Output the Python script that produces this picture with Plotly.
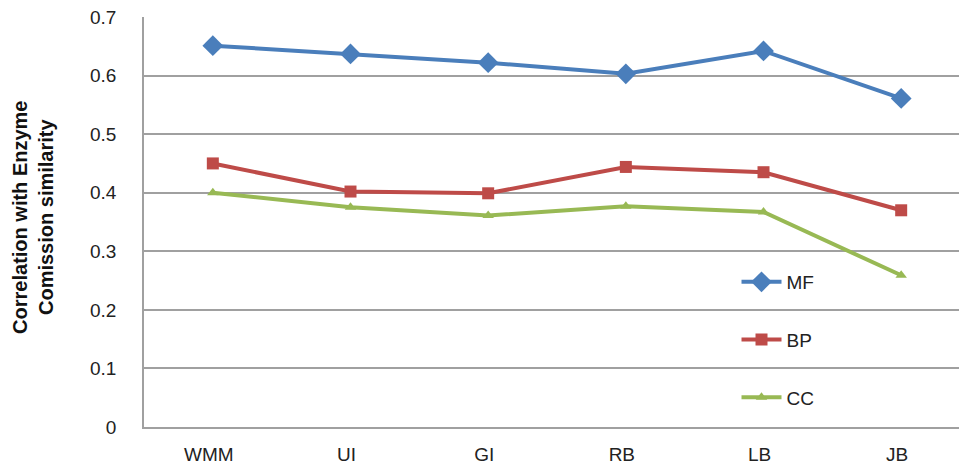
import plotly.graph_objects as go

# Similarity measures along the x axis
methods = ["WMM", "UI", "GI", "RB", "LB", "JB"]

# Correlation with Enzyme Commission similarity per GO ontology
mf_values = [0.651, 0.637, 0.622, 0.603, 0.642, 0.561]
bp_values = [0.450, 0.402, 0.399, 0.444, 0.435, 0.370]
cc_values = [0.400, 0.375, 0.361, 0.377, 0.367, 0.259]

y_ticks = [0, 0.1, 0.2, 0.3, 0.4, 0.5, 0.6, 0.7]

W, H = 959, 468
ML, MT, MB, MR = 144, 17, 41, 0

series = [
    ("MF", mf_values, "#4a7ebb", "diamond", 16),
    ("BP", bp_values, "#be4b48", "square", 12),
    ("CC", cc_values, "#98b954", "triangle-up", 10),
]

fig = go.Figure()
xpos = list(range(len(methods)))
for i, (name, vals, color, symbol, msize) in enumerate(series):
    fig.add_trace(go.Scatter(
        x=xpos, y=vals, name=name, mode="lines+markers",
        line=dict(color=color, width=4),
        marker=dict(symbol=symbol, size=msize, color=color, line=dict(width=0)),
        legendgroup=name,
    ))

fig.update_layout(
    width=W, height=H,
    margin=dict(l=ML, r=MR, t=MT, b=MB),
    paper_bgcolor="white", plot_bgcolor="white",
    font=dict(family="Liberation Sans, Arial, sans-serif", size=19, color="#222222"),
    showlegend=True,
    legend=dict(
        x=0.727, y=0.40, xanchor="left", yanchor="top",
        bgcolor="rgba(0,0,0,0)", tracegroupgap=30,
        font=dict(size=19, color="#222222"),
        itemwidth=40,
    ),
    xaxis=dict(
        range=[-0.5, 5.42],
        tickmode="array", tickvals=xpos, ticktext=methods,
        showgrid=False, zeroline=False,
        showline=True, linecolor="#a0a0a0", linewidth=1.5,
        ticks="", ticklabelstandoff=9, ticklabelshift=-4,
        tickfont=dict(size=19),
    ),
    yaxis=dict(
        range=[0, 0.7],
        tickmode="array", tickvals=y_ticks,
        ticktext=[("%g" % v) for v in y_ticks],
        showgrid=True, gridcolor="#a0a0a0", gridwidth=1.5,
        zeroline=False,
        showline=True, linecolor="#a0a0a0", linewidth=1.5,
        ticks="", ticklabelstandoff=22,
        tickfont=dict(size=19),
    ),
)

# Two-line rotated axis title
fig.add_annotation(
    xref="paper", yref="paper",
    x=-(ML - 33) / (W - ML - MR), y=0.51,
    text="<b>Correlation with Enzyme<br>Comission similarity</b>",
    textangle=-90, showarrow=False,
    xanchor="center", yanchor="middle",
    font=dict(size=20, color="#111111"),
)

fig.write_html("out.html")
